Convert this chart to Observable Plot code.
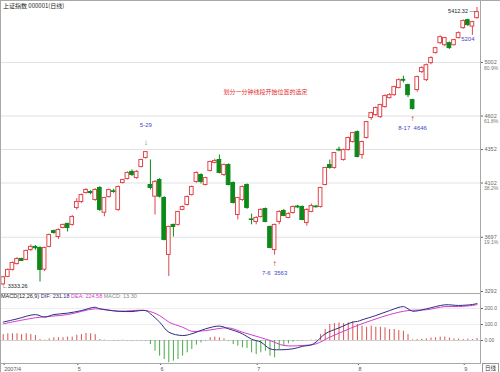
<!DOCTYPE html>
<html><head><meta charset="utf-8">
<script src="https://cdn.jsdelivr.net/npm/d3@7"></script>
<script src="https://cdn.jsdelivr.net/npm/@observablehq/plot@0.6"></script>
<style>
html,body{margin:0;padding:0;background:#fff;}
#chart{position:relative;width:500px;height:372px;overflow:hidden;font-family:"Liberation Sans","Noto Sans CJK SC",sans-serif;}
#chart svg{display:block;}
.border{position:absolute;left:0;top:0;width:500px;height:372px;border-left:1px solid #a8a8a8;border-top:1px solid #a8a8a8;pointer-events:none;box-sizing:border-box}
#title{position:absolute;left:3px;top:1px;font-size:6px;color:#222;font-family:"Noto Sans CJK SC",sans-serif;white-space:nowrap}
#macdLegend{position:absolute;left:1px;top:293px;font-size:5.5px;white-space:nowrap;color:#222}
#dayBox{position:absolute;left:482px;top:363px;width:15px;height:8px;border:1px solid #999;font-size:5.5px;line-height:8px;text-align:center;color:#333;font-family:"Noto Sans CJK SC",sans-serif}
</style></head><body>
<div id="chart"><div id="price"></div><div id="macd"></div>
<div id="title">上证指数 000001(日线)</div>
<div id="macdLegend"><span>MACD(12,26,9)</span> <span style="color:#2d2d80">DIF: 231.18</span> <span style="color:#d23cd2">DEA: 224.58</span> <span style="color:#888">MACD: 13.30</span></div>
<div id="dayBox">日线</div>
<div class="border"></div></div>
<script>
// ---- daily candles (Shanghai Composite, Apr–Sep 2007), index 0..103 ----
const open  = [3345,3401,3453,3497,3535,3528,3602,3625,3617,3455,3625,3743,3699,3766,3797,3789,3915,3960,4027,4035,3975,4065,3880,3997,4040,3901,4102,4132,4185,4139,4221,4289,4087,4000,4124,3990,3565,3789,3789,3901,3938,4012,4110,4162,4087,4192,4252,4274,4162,4236,4102,3863,3975,4087,3830,3811,3848,3908,3774,3602,3811,3893,3841,3878,3926,3923,3803,3886,3926,3923,4087,4236,4214,4350,4274,4348,4408,4482,4311,4438,4587,4609,4594,4669,4736,4758,4811,4872,4833,4721,4796,4930,4870,4997,5072,5146,5131,5146,5131,5184,5258,5318,5270,5333];
const high  = [3405,3460,3512,3545,3540,3600,3640,3635,3625,3622,3720,3750,3760,3795,3800,3860,3985,4020,4060,4045,4060,4075,3995,4055,4055,4080,4130,4185,4200,4195,4280,4335.96,4274,4120,4135,4000,3780,3795,3890,3930,4005,4080,4185,4170,4145,4265,4280,4311,4245,4245,4110,3995,4080,4095,3870,3850,3910,3915,3780,3795,3895,3905,3880,3930,3935,3930,3910,3945,3935,4070,4220,4274,4330,4370,4355,4445,4480,4490,4415,4562,4630,4670,4690,4760,4770,4825,4880,4900,4840,4728,4900,4970,4990,5045,5115,5200,5190,5155,5175,5230,5320,5325,5310,5412.32];
const low   = [3333.26,3395,3445,3490,3515,3522,3590,3600,3363,3440,3618,3720,3680,3760,3736,3780,3900,3950,4020,4015,3965,3890,3850,3990,4025,3890,4095,4125,4150,4130,4215,4280,4050,3863,3990,3670,3404,3699,3780,3895,3930,4005,4100,4095,4080,4185,4245,4170,4150,4080,3945,3826,3965,3905,3790,3790,3840,3805,3610,3563.54,3790,3850,3835,3870,3910,3820,3780,3880,3915,3915,4080,4205,4205,4335,4265,4340,4400,4290,4280,4430,4570,4600,4585,4660,4730,4750,4805,4850,4740,4646,4780,4920,4860,4985,5065,5135,5120,5100,5125,5178,5250,5270,5204,5325];
const close = [3398,3453,3505,3535,3520,3595,3625,3615,3453,3617,3714,3729,3751,3789,3766,3848,3960,4012,4050,4027,4050,3901,3990,4050,4035,4072,4124,4177,4162,4185,4274,4333,4065,4110,4000,3677,3774,3774,3886,3923,3997,4072,4177,4110,4139,4259,4266,4177,4236,4087,3953,3990,4072,3916,3826,3841,3901,3811,3617,3789,3886,3856,3871,3923,3920,3826,3901,3930,3921,4065,4214,4214,4326,4345,4348,4438,4475,4296,4408,4557,4624,4662,4684,4751,4758,4818,4870,4866,4758,4655,4893,4960,4982,5035,5109,5191,5184,5109,5169,5221,5311,5281,5303,5378];

// ---- MACD histogram per candle ----
const macdHist = [37,42,42,42,37,42,37,31, 6,2,10,17,17,17,21,21, 33,37,44,42,37,6,2,0, -2,-3,2,-2,-3,-2,-2,-4,
  -25,-67,-98,-119,-139,-129,-119,-98,-77,-56,-29,-15,-4,
  17,21,17,10,-4,-25,-35,-46,-50,
  -77,-88,-77,-67,-98,-108,-56,-35,-21,-10,-4,-4,-2,2,4,
  37,69,100,106,110,106,110,117,100,90,83,90,83,83,79,69,69,62,58,37,
  4,6,8,10,15,17,21,21,15,10,8,6,8,6,13.3];

// ---- DIF / DEA read at candle indices ----
const difIdx = [0,3,7,9,11,14,17,20,21,25,28,31,32,34,36,39,41,44,47,49,52,54,56,58,60,63,65,67,68,70,73,76,77,78,81,84,87,88,89,92,96,99,102,103];
const difVal = [115,135,162,146,162,171,187,208,198,183,181,187,167,115,52,31,42,73,90,73,42,8,-10,-52,-58,-52,-37,-27,-10,42,79,115,119,129,156,187,212,198,183,198,223,219,225,231.18];
const deaIdx = [0,7,14,20,25,31,34,36,39,41,44,49,52,54,58,61,65,68,71,74,77,80,84,88,92,96,99,102,103];
const deaVal = [104,142,162,198,183,187,156,115,83,58,62,79,52,35,0,-31,-31,-21,21,58,94,125,162,187,192,212,212,219,224.58];

// ---- axes ----
const priceTicks = [3292,3697,4102,4352,4602,5002];
const fibVals = [3697,4102,4602,5002];
const fibPcts = ["19.1%","38.2%","61.8%","80.9%"];
const macdTicks = [0,100,200];
const monthIdx = [0,16,34,55,77,100];
const monthLbl = ["2007/4","5","6","7","8","9"];

// ---- annotations ----
const peakNotes = [{i:31, p:4335.96, label:"5-29"}];
const lowNotes  = [{i:59, p:3563.54, label:"7-6  3563"},{i:89, p:4646, label:"8-17  4646"}];
const note = {i:57, p:4780, label:"划分一分钟线段开始位置的选定"};

const RED = "#e0464b", GREEN = "#0b8a1a", BLUE = "#4646c8";
const FONT = '"Liberation Sans","Noto Sans CJK SC",sans-serif';
const xDomain = [-0.59, 103.76];

const candles = open.map((o,i) => ({i, open:o, high:high[i], low:low[i], close:close[i], up: close[i] >= o}));
const hist = macdHist.map((v,i) => ({i, v}));
const dif = difIdx.map((i,k) => ({i, v: difVal[k]}));
const dea = deaIdx.map((i,k) => ({i, v: deaVal[k]}));
const fibs = fibVals.map((v,k) => ({v, pct: fibPcts[k]}));

const pricePlot = Plot.plot({
  width: 500, height: 293, marginLeft: 0, marginRight: 20, marginTop: 7, marginBottom: 2,
  x: {domain: xDomain, axis: null, label: null},
  y: {domain: [3292, 5412.32], axis: null, label: null},
  style: {fontFamily: FONT, background: "transparent", overflow: "visible"},
  marks: [
    Plot.ruleY(priceTicks.slice(1), {stroke: "#e2e2e2"}),
    Plot.ruleX(candles, {x: "i", y1: "low", y2: "high", stroke: d => d.up ? RED : GREEN, strokeWidth: 1}),
    Plot.rect(candles, {x1: d => d.i - 0.4, x2: d => d.i + 0.4, y1: "open", y2: "close",
      fill: d => d.up ? "white" : GREEN, stroke: d => d.up ? RED : GREEN, strokeWidth: 1}),
    Plot.ruleX([xDomain[1]], {stroke: "#a8a8a8", insetTop: -7, insetBottom: -2}),
    Plot.axisY(priceTicks, {anchor: "right", label: null, tickSize: 2, tickPadding: 2, fontSize: 5.5, color: "#666", tickFormat: d3.format("d")}),
    Plot.text(fibs, {x: xDomain[1], y: "v", text: "pct", textAnchor: "start", dx: 3.5, dy: 5.5, fontSize: 5, fill: "#777"}),
    // peak marker
    Plot.text(peakNotes, {x: "i", y: "p", text: () => "↓", dy: -9, fontSize: 8, fontWeight: "bold", fill: "#22b022"}),
    Plot.text(peakNotes, {x: "i", y: "p", text: "label", dy: -27, fontSize: 6, fill: BLUE}),
    // low markers
    Plot.text(lowNotes, {x: "i", y: "p", text: () => "↑", dy: 8, fontSize: 8, fontWeight: "bold", fill: "#c02020"}),
    Plot.text(lowNotes, {x: "i", y: "p", text: "label", dy: 17.5, fontSize: 6, fill: BLUE}),
    // extremes
    Plot.text([candles[0]], {x: "i", y: "low", text: d => "←" + d.low.toFixed(2), textAnchor: "start", dx: -1, fontSize: 5.5, fill: "#222"}),
    Plot.text([candles[103]], {x: "i", y: "high", text: d => d.high.toFixed(2) + " —", textAnchor: "end", dx: -2, dy: 3.5, fontSize: 5.5, fill: "#222"}),
    Plot.text([candles[102]], {x: d => d.i - 1, y: "low", text: d => d3.format("d")(d.low), dy: 4, fontSize: 6, fill: BLUE}),
    // centre note
    Plot.text([note], {x: "i", y: "p", text: "label", fontSize: 6, fill: "#e03030", fontFamily: '"Noto Sans CJK SC",sans-serif'})
  ]
});

const macdPlot = Plot.plot({
  width: 500, height: 79, marginLeft: 0, marginRight: 20, marginTop: 0, marginBottom: 9,
  x: {domain: xDomain, axis: null, label: null},
  y: {domain: [-143.75, 293.75], axis: null, label: null},
  style: {fontFamily: FONT, background: "transparent", overflow: "visible"},
  marks: [
    Plot.ruleY([100, 200], {stroke: "#ececec"}),
    Plot.ruleY([0], {stroke: "#d0d0d0"}),
    Plot.ruleX(hist, {x: "i", y1: 0, y2: "v", stroke: d => d.v >= 0 ? "#d9534f" : "#4aa84a", strokeWidth: 1}),
    Plot.line(dea, {x: "i", y: "v", stroke: "#d23cd2", strokeWidth: 1, curve: "catmull-rom"}),
    Plot.line(dif, {x: "i", y: "v", stroke: "#2d2d80", strokeWidth: 1, curve: "catmull-rom"}),
    Plot.axisY(macdTicks, {anchor: "right", label: null, tickSize: 2, tickPadding: 2, fontSize: 5, color: "#666",
      tickFormat: d => d === 0 ? "0.00" : d.toFixed(1)}),
    Plot.axisX(monthIdx, {anchor: "bottom", label: null, tickSize: 2, tickPadding: 1.5, fontSize: 5.5, color: "#555",
      textAnchor: "start", dx: 1, tickFormat: d => monthLbl[monthIdx.indexOf(d)]}),
    Plot.frame({stroke: "#a8a8a8"})
  ]
});

document.getElementById("price").append(pricePlot);
document.getElementById("macd").append(macdPlot);
</script>
</body></html>
